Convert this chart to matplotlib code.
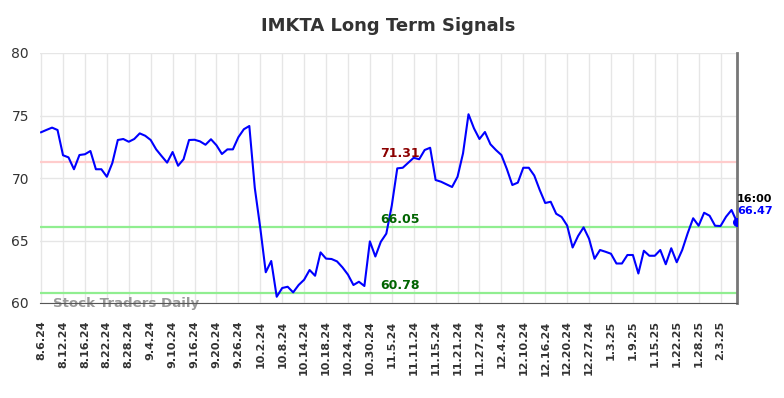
import matplotlib
matplotlib.use("Agg")
import matplotlib.pyplot as plt
import numpy as np

# Chart data
title = "IMKTA Long Term Signals"
TickLabels = ["8.6.24", "8.12.24", "8.16.24", "8.22.24", "8.28.24", "9.4.24", "9.10.24",
              "9.16.24", "9.20.24", "9.26.24", "10.2.24", "10.8.24", "10.14.24", "10.18.24",
              "10.24.24", "10.30.24", "11.5.24", "11.11.24", "11.15.24", "11.21.24",
              "11.27.24", "12.4.24", "12.10.24", "12.16.24", "12.20.24", "12.27.24",
              "1.3.25", "1.9.25", "1.15.25", "1.22.25", "1.28.25", "2.3.25"]
Values = [73.66, 73.85, 74.03, 73.84, 71.82, 71.65, 70.70, 71.84, 71.90, 72.16,
          70.70, 70.70, 70.10, 71.20, 73.04, 73.12, 72.90, 73.12, 73.57, 73.38,
          73.04, 72.29, 71.75, 71.23, 72.08, 70.98, 71.50, 73.04, 73.06, 72.93,
          72.66, 73.10, 72.62, 71.92, 72.29, 72.29, 73.26, 73.90, 74.16, 69.20,
          66.00, 62.46, 63.36, 60.50, 61.20, 61.30, 60.85, 61.44, 61.86, 62.64,
          62.18, 64.05, 63.55, 63.52, 63.33, 62.85, 62.27, 61.44, 61.70, 61.36,
          64.93, 63.72, 64.90, 65.55, 67.80, 70.77, 70.82, 71.22, 71.62, 71.50,
          72.24, 72.42, 69.84, 69.70, 69.49, 69.28, 70.10, 71.97, 75.10, 73.97,
          73.12, 73.68, 72.70, 72.24, 71.84, 70.72, 69.44, 69.63, 70.82, 70.82,
          70.20, 69.04, 68.00, 68.10, 67.14, 66.88, 66.20, 64.44, 65.36, 66.05,
          65.14, 63.54, 64.24, 64.10, 63.94, 63.16, 63.16, 63.84, 63.84, 62.36,
          64.18, 63.78, 63.78, 64.24, 63.10, 64.38, 63.26, 64.24, 65.58, 66.78,
          66.18, 67.22, 66.98, 66.18, 66.16, 66.90, 67.44, 66.47]
resistance = 71.31
supports = [66.05, 60.78]
last_time = "16:00"

x = np.arange(len(Values))

fig = plt.figure(figsize=(7.84, 3.98), dpi=100)
ax = fig.add_axes([40 / 784, 1 - 303 / 398, 697 / 784, 250 / 398])

ax.grid(True, color="#e6e6e6", linewidth=1)
ax.set_axisbelow(True)

ax.axhline(resistance, color="#ffcccc", linewidth=1.6, zorder=1)   # resistance line
for s in supports:
    ax.axhline(s, color="#90ee90", linewidth=1.6, zorder=1)         # support lines

ax.plot(x, Values, color="blue", linewidth=1.5, zorder=3)
ax.scatter([x[-1]], [Values[-1]], color="blue", s=30, zorder=4)

# level labels
mid = 65.5
ax.text(mid, resistance + 0.1, f"{resistance:.2f}", color="#8b0000", fontsize=9,
        fontweight="bold", ha="center", va="bottom")
for s in supports:
    ax.text(mid, s + 0.1, f"{s:.2f}", color="#006400", fontsize=9,
            fontweight="bold", ha="center", va="bottom")

ax.text(x[-1], Values[-1] + 1.45, last_time, color="black", fontsize=8,
        fontweight="bold", ha="left", va="bottom")
ax.text(x[-1], Values[-1] + 0.45, f"{Values[-1]:.2f}", color="blue", fontsize=8,
        fontweight="bold", ha="left", va="bottom")

ax.text(2.2, 59.95, "Stock Traders Daily", color="#999999", fontsize=9.6,
        fontweight="bold", ha="left", va="center", zorder=2, clip_on=False)

ax.set_xlim(-0.2, x[-1])
ax.set_ylim(60, 80)
ax.set_yticks([60, 65, 70, 75, 80])
ax.set_xticks(x[::4][:len(TickLabels)])
ax.set_xticklabels(TickLabels, rotation=90, fontsize=8, fontweight="bold", color="#333333")
ax.tick_params(axis="y", labelsize=10, colors="#333333", length=0, pad=8)
ax.tick_params(axis="x", length=0, pad=12.5)

for side in ["top", "left"]:
    ax.spines[side].set_visible(False)
ax.spines["bottom"].set_color("#555555")
ax.spines["right"].set_color("#777777")
ax.spines["right"].set_linewidth(2)

fig.suptitle(title, x=(40 + 737) / 2 / 784, y=1 - 26 / 398, va="center",
             fontsize=13, fontweight="bold", color="#333333")

fig.savefig("out.png", dpi=100)
